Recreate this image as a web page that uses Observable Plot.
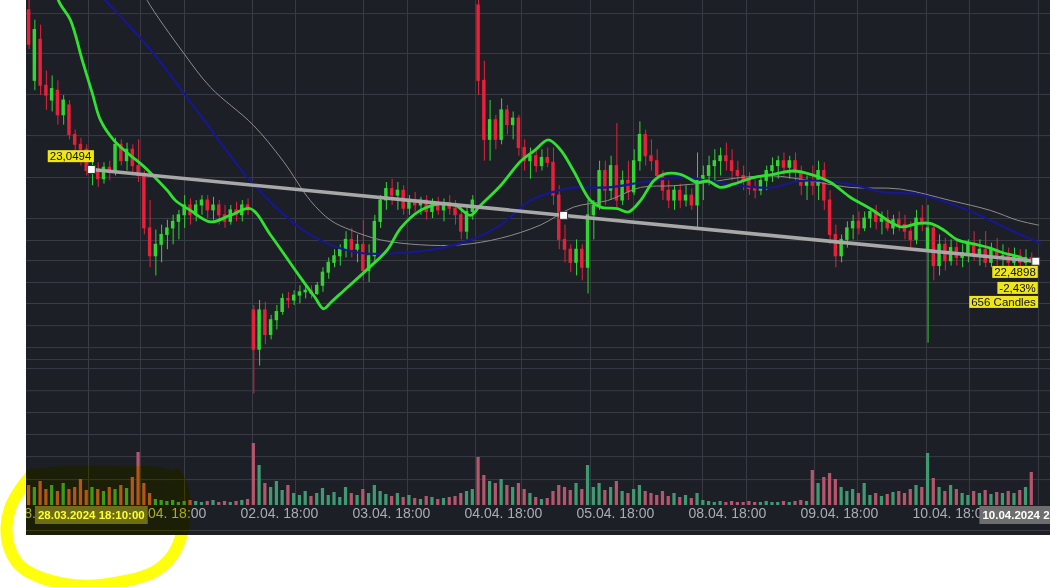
<!DOCTYPE html>
<html><head><meta charset="utf-8">
<script src="https://cdn.jsdelivr.net/npm/d3@7"></script>
<script src="https://cdn.jsdelivr.net/npm/@observablehq/plot@0.6"></script>
<style>
body{margin:0;background:#fff;}
#root{position:relative;width:1050px;height:587px;overflow:hidden;background:#fff;font-family:'Liberation Sans',Arial,sans-serif;}
#pane{position:absolute;left:26px;top:0;width:1024px;height:535px;background:#1c1f25;overflow:hidden;}
#pane svg{position:absolute;left:-26px;top:0;max-width:none;}
#baseline{position:absolute;left:0;top:530px;width:1024px;height:1px;background:#3a3d45;}
#root > svg{position:absolute;left:0;top:0;max-width:none;mix-blend-mode:multiply;}
</style></head>
<body><div id="root"><div id="pane"><div id="baseline"></div></div></div>
<script>
// ---- candles (one bar = 4 ten-minute candles), prices in EUR ----
const open = [24.02,23.59,23.84,23.56,23.47,23.53,23.38,23.44,23.26,23.20,
23.17,23.04,23.05,22.99,23.06,23.03,23.20,23.10,23.17,23.07,
23.01,22.69,22.52,22.59,22.65,22.69,22.73,22.77,22.83,22.77,
22.83,22.86,22.80,22.83,22.77,22.73,22.80,22.77,22.83,22.19,
21.95,22.19,22.04,22.13,22.18,22.26,22.25,22.28,22.30,22.31,
22.29,22.34,22.42,22.48,22.52,22.56,22.62,22.56,22.59,22.43,
22.52,22.73,22.86,22.93,22.89,22.92,22.81,22.86,22.83,22.86,
22.79,22.83,22.80,22.84,22.81,22.77,22.67,22.79,24.05,23.59,
23.23,23.35,23.23,23.41,23.32,23.36,23.18,23.10,23.13,23.07,
23.12,23.09,22.89,22.62,22.56,22.48,22.56,22.45,22.77,22.83,
23.04,22.92,23.07,22.86,22.98,22.91,23.10,23.26,23.13,23.10,
23.01,22.92,22.86,22.92,22.86,22.89,22.83,22.98,23.01,23.07,
23.10,23.13,23.10,23.04,23.01,22.98,22.93,22.92,22.98,23.04,
23.07,23.10,23.06,23.10,23.03,22.95,22.98,22.95,23.04,22.86,
22.65,22.52,22.62,22.69,22.73,22.69,22.75,22.79,22.73,22.75,
22.69,22.74,22.71,22.67,22.62,22.75,22.56,22.69,22.46,22.59,
22.49,22.57,22.51,22.54,22.59,22.52,22.56,22.48,22.56,22.51,
22.52,22.48,22.52,22.48,22.51];
const high = [24.08,23.96,23.93,23.65,23.62,23.59,23.50,23.47,23.29,23.24,
23.20,23.10,23.09,23.09,23.10,23.24,23.23,23.21,23.20,23.23,
23.04,22.86,22.68,22.71,22.74,22.77,22.80,22.89,22.87,22.86,
22.89,22.89,22.88,22.86,22.83,22.83,22.85,22.86,22.87,22.22,
22.25,22.24,22.16,22.22,22.29,22.30,22.31,22.34,22.35,22.34,
22.36,22.45,22.51,22.56,22.59,22.67,22.69,22.65,22.74,22.59,
22.77,22.89,22.97,22.99,22.97,22.95,22.89,22.91,22.88,22.89,
22.87,22.88,22.87,22.89,22.86,22.83,22.83,22.89,24.11,23.71,
23.47,23.38,23.48,23.44,23.40,23.38,23.23,23.18,23.17,23.17,
23.18,23.18,22.95,22.71,22.59,22.62,22.59,22.86,22.86,23.10,
23.10,23.13,23.33,23.04,23.10,23.17,23.34,23.29,23.23,23.17,
23.04,22.98,22.95,22.96,22.95,22.93,23.15,23.07,23.13,23.17,
23.18,23.21,23.17,23.10,23.07,23.03,22.98,23.01,23.07,23.12,
23.13,23.15,23.13,23.15,23.07,23.01,23.07,23.10,23.09,22.92,
22.71,22.65,22.73,22.77,22.79,22.79,22.81,22.83,22.79,22.80,
22.77,22.79,22.77,22.73,22.80,22.83,22.83,22.71,22.65,22.63,
22.62,22.62,22.59,22.62,22.67,22.62,22.67,22.60,22.63,22.59,
22.57,22.57,22.56,22.56,22.54];
const low = [23.78,23.53,23.50,23.41,23.40,23.32,23.32,23.23,23.15,23.07,
23.01,22.95,22.94,22.96,22.98,23.01,23.07,23.04,23.01,22.97,
22.65,22.45,22.40,22.48,22.56,22.59,22.62,22.69,22.71,22.73,
22.77,22.75,22.74,22.71,22.69,22.71,22.73,22.73,22.77,21.68,
21.85,21.98,22.01,22.07,22.16,22.20,22.22,22.23,22.26,22.26,
22.28,22.30,22.38,22.45,22.46,22.51,22.51,22.48,22.37,22.36,
22.48,22.69,22.80,22.83,22.80,22.77,22.77,22.79,22.77,22.74,
22.75,22.77,22.73,22.77,22.71,22.62,22.62,22.74,23.50,23.10,
23.10,23.17,23.20,23.26,23.23,23.13,23.04,22.99,23.03,23.04,
23.06,22.83,22.56,22.48,22.42,22.40,22.37,22.29,22.62,22.80,
22.83,22.86,22.80,22.83,22.86,22.89,23.04,23.07,23.04,22.98,
22.86,22.81,22.80,22.81,22.82,22.80,22.68,22.86,22.95,22.98,
23.01,23.04,22.98,22.95,22.92,22.89,22.87,22.89,22.92,22.97,
22.99,23.01,22.99,22.98,22.89,22.86,22.89,22.86,22.80,22.59,
22.45,22.48,22.57,22.62,22.65,22.67,22.69,22.68,22.65,22.67,
22.65,22.67,22.62,22.57,22.59,22.67,21.99,22.37,22.40,22.43,
22.46,22.46,22.45,22.48,22.49,22.46,22.45,22.45,22.46,22.45,
22.45,22.46,22.45,22.46,22.46];
const close = [23.81,23.90,23.56,23.50,23.54,23.38,23.47,23.26,23.20,23.17,
23.04,23.05,22.99,23.06,23.03,23.20,23.10,23.17,23.07,23.01,
22.69,22.52,22.59,22.65,22.69,22.73,22.77,22.83,22.77,22.83,
22.86,22.80,22.83,22.77,22.73,22.80,22.77,22.83,22.80,21.95,
22.19,22.04,22.13,22.18,22.26,22.25,22.28,22.30,22.31,22.29,
22.34,22.42,22.48,22.52,22.56,22.62,22.56,22.59,22.43,22.52,
22.73,22.86,22.93,22.89,22.92,22.81,22.86,22.83,22.86,22.79,
22.83,22.80,22.84,22.81,22.77,22.67,22.79,22.86,23.59,23.23,
23.35,23.23,23.41,23.32,23.36,23.18,23.10,23.13,23.07,23.12,
23.09,22.89,22.62,22.56,22.48,22.56,22.45,22.77,22.83,23.04,
22.92,23.07,22.86,22.98,22.91,23.10,23.26,23.13,23.10,23.01,
22.92,22.86,22.92,22.86,22.89,22.83,22.98,23.01,23.07,23.10,
23.13,23.10,23.04,23.01,22.98,22.93,22.92,22.98,23.04,23.07,
23.10,23.06,23.10,23.03,22.95,22.98,22.95,23.04,22.86,22.65,
22.52,22.62,22.69,22.73,22.69,22.75,22.79,22.73,22.75,22.69,
22.74,22.71,22.67,22.62,22.75,22.73,22.69,22.46,22.59,22.49,
22.57,22.51,22.54,22.59,22.52,22.56,22.48,22.56,22.51,22.52,
22.48,22.52,22.48,22.51,22.49];
const volume = [20,18,24,16,20,14,22,16,18,26,15,18,16,14,18,16,20,17,28,53,22,12,
6,5,4,5,3,4,5,4,3,4,5,3,4,3,4,5,6,
62,40,22,18,24,15,20,12,10,14,9,12,17,10,13,8,18,12,10,16,12,20,14,11,9,12,8,10,7,6,9,8,6,7,8,9,12,14,16,
48,30,24,22,26,20,18,22,16,12,8,6,7,14,20,18,15,22,16,40,18,22,15,18,24,14,12,16,20,14,12,10,14,9,12,8,10,7,12,
5,4,3,4,3,4,3,3,4,3,3,4,3,3,4,3,4,5,4,
35,22,28,32,26,18,14,16,12,22,10,12,9,11,13,14,12,16,20,18,52,27,18,14,20,16,12,10,14,12,15,11,13,12,14,12,15,18,33];

// ---- moving averages (x in bar units) ----
const greenX = [3.7,5.1,7.18,9.27,11.0,12.39,14.65,17.08,19.85,21.59,24.02,25.4,28.0,31.5,34.95,38.42,41.9,47.1,49.6,51.1,52.4,54.6,59.3,62.2,64.45,67.9,71.4,74.0,76.6,78.3,81.8,85.3,87.7,90.1,92.2,94.5,97.4,99.2,102.1,104.0,106.1,108.4,110.1,113.0,116.0,117.7,120.0,122.2,125.7,129.2,132.6,135.6,139.1,142.5,146.0,151.2,154.2,156.4,158.7,161.1,164.6,166.8,169.1,171.5,173.8,174.8];
const greenY = [24.32,24.08,23.96,23.71,23.51,23.35,23.23,23.15,23.07,23.01,22.92,22.86,22.80,22.73,22.77,22.81,22.65,22.39,22.27,22.20,22.24,22.31,22.46,22.56,22.69,22.80,22.84,22.83,22.77,22.83,22.95,23.10,23.165,23.23,23.17,23.04,22.86,22.82,22.81,22.79,22.86,22.98,23.02,23.02,22.97,22.98,22.94,22.96,23.00,23.02,23.04,23.02,22.97,22.88,22.81,22.70,22.72,22.72,22.68,22.62,22.59,22.57,22.54,22.52,22.49,22.48];
const blueX = [11.5,13.26,21.07,29.74,38.42,47.1,52.3,57.5,64.45,71.4,76.6,81.8,87.0,91.7,94.5,100.4,106.1,111.8,114.8,117.7,123.4,126.4,129.2,133.9,142.5,148.3,154.2,159.9,165.6,171.5,175.5];
const blueY = [24.15,24.08,23.78,23.38,22.98,22.69,22.59,22.54,22.54,22.57,22.62,22.71,22.86,22.92,22.94,22.94,22.97,23.00,23.00,22.98,22.95,22.94,22.94,22.98,22.96,22.91,22.90,22.84,22.76,22.66,22.60];
const grayX = [19.3,20.5,26.8,31.5,38.9,44.1,48.8,52.3,55.8,61.0,67.9,74.9,81.8,88.7,94.5,100.4,106.1,111.8,117.7,123.4,129.2,133.9,142.5,151.2,159.9,166.8,171.5,175.2];
const grayY = [24.17,24.08,23.76,23.55,23.32,23.10,22.86,22.74,22.68,22.62,22.59,22.59,22.63,22.71,22.82,22.86,22.94,22.95,22.97,23.00,23.01,22.99,22.94,22.93,22.86,22.80,22.74,22.71];

// ---- measurement tool ----
const trendX = [10.8, 174.7];
const trendY = [23.0494, 22.4898];
const handleX = [10.8, 92.75, 174.7];
const handleY = [23.0494, 22.7696, 22.4898];
const startLabel = "23,0494";
const endLabels = ["22,4898", "-2,43%", "656 Candles"];
const dateTags = ["28.03.2024 18:10:00", "10.04.2024 21:50:00"];

// ---- axis & grid ----
const tickX = [-2.19, 17.25, 36.68, 56.12, 75.55, 94.99, 114.42, 133.86, 153.29];
const tickLabels = ["28.03. 18:00","01.04. 18:00","02.04. 18:00","03.04. 18:00","04.04. 18:00","05.04. 18:00","08.04. 18:00","09.04. 18:00","10.04. 18:00"];
const gridX = [10.31,19.33,26.97,38.77,46.23,58.03,65.66,77.46,85.44,97.42,104.88,116.85,124.49,136.29,143.75,155.72,163.18,175.15];
const gridPrice = [24.00,23.757,23.507,23.256,23.00,22.75,22.616,22.494,22.36,22.232,22.097,21.963,21.89,21.835,21.70,21.567,21.433,21.298,21.158];

// ---- hand-drawn highlight (in chart units) ----
const ringX = [0.59,-1.49,-3.23,-3.92,-3.40,-1.49,2.85,9.79,16.73,21.41,24.54,26.27,26.97,26.79,25.58];
const ringY = [21.19,21.10,20.99,20.87,20.74,20.63,20.55,20.51,20.54,20.59,20.68,20.80,20.94,21.08,21.19];
const tintX = [-0.45,5.45,15.86,23.67,25.93,26.97,27.31];
const tintTop = [21.213,21.237,21.237,21.225,21.176,21.091,20.8165];
const tintBottom = 20.8165;

const xDomain = [-0.45, 177.25];
const priceDomain = [21, 24.08];
const GRID = "#393c44", UP = "#33d433", DOWN = "#e8203a", VUP = "#3f9a72", VDOWN = "#b4566c";
const FONT = "'Liberation Sans', Arial, sans-serif";

const bars = open.map((o, i) => ({b: i, o, h: high[i], l: low[i], c: close[i], v: volume[i]}));
const pts = (xs, ys) => xs.map((x, i) => ({x, y: ys[i]}));
const col = d => d.c >= d.o ? UP : DOWN;

function tag(x, y, t, dy) {
  return Plot.text([{x, y, t}], {x: "x", y: "y", text: "t", textAnchor: "end", dy,
    fill: "#111", fontSize: 11.5});
}

const price = Plot.plot({
  width: 1050, height: 535, marginLeft: 26, marginRight: 0, marginTop: 0, marginBottom: 30,
  x: {domain: xDomain, axis: null}, y: {domain: priceDomain, axis: null},
  style: {background: "transparent", fontFamily: FONT},
  marks: [
    Plot.ruleY(gridPrice, {stroke: GRID, strokeWidth: 1}),
    Plot.ruleX(gridX, {stroke: GRID, strokeWidth: 1}),
    Plot.text(tickX.map((x, i) => ({x, t: tickLabels[i]})), {x: "x", text: "t", frameAnchor: "bottom", dy: 12,
      textAnchor: "start", fill: "#a9adb4", fontSize: 14}),
    Plot.ruleX(bars, {x: "b", y1: "l", y2: "h", stroke: col, strokeWidth: 1}),
    Plot.rect(bars, {x1: d => d.b - 0.3, x2: d => d.b + 0.3, y1: "o", y2: "c", fill: col, insetTop: -0.5, insetBottom: -0.5}),
    Plot.line(pts(grayX, grayY), {x: "x", y: "y", stroke: "#8c8c8c", strokeWidth: 1, curve: "catmull-rom"}),
    Plot.line(pts(blueX, blueY), {x: "x", y: "y", stroke: "#17178e", strokeWidth: 2.2, curve: "catmull-rom"}),
    Plot.line(pts(greenX, greenY), {x: "x", y: "y", stroke: "#2fe22f", strokeWidth: 2.8, curve: "catmull-rom"}),
    Plot.line(pts(trendX, trendY), {x: "x", y: "y", stroke: "#a8a8a8", strokeWidth: 3.6}),
    Plot.dot(pts(handleX, handleY), {x: "x", y: "y", symbol: "square", r: 4.5, fill: "white", stroke: "#333", strokeWidth: 1}),
    tag(trendX[0], trendY[0], startLabel, -13),
    tag(trendX[1], trendY[1], endLabels[0], 11),
    tag(trendX[1], trendY[1], endLabels[1], 27),
    tag(trendX[1], trendY[1], endLabels[2], 41),
    Plot.text(trendX.map((x, i) => ({x, t: dateTags[i]})), {x: "x", text: "t", frameAnchor: "bottom", dy: 13.5,
      fill: "white", fontWeight: "bold", fontSize: 11.5})
  ]
});

const vol = Plot.plot({
  width: 1050, height: 535, marginLeft: 26, marginRight: 0, marginTop: 435, marginBottom: 30,
  x: {domain: xDomain, axis: null}, y: {domain: [0, 70], axis: null},
  style: {background: "transparent"},
  marks: [
    Plot.rect(bars, {x1: d => d.b - 0.28, x2: d => d.b + 0.28, y1: d => 0, y2: "v", fill: d => d.c >= d.o ? VUP : VDOWN})
  ]
});

const anno = Plot.plot({
  width: 1050, height: 587, marginLeft: 26, marginRight: 0, marginTop: 0, marginBottom: 82,
  x: {domain: xDomain, axis: null}, y: {domain: priceDomain, axis: null},
  style: {background: "transparent"},
  marks: [
    Plot.areaY(tintX.map((x, i) => ({x, t: tintTop[i], b: tintBottom})), {x: "x", y1: "b", y2: "t", fill: "#ffff30", curve: "catmull-rom"}),
    Plot.line(pts(ringX, ringY), {x: "x", y: "y", stroke: "#ffff00", strokeWidth: 12, strokeLinecap: "round", strokeOpacity: 0.95, curve: "catmull-rom"})
  ]
});

const pane = document.getElementById("pane");
pane.appendChild(price);
pane.appendChild(vol);
document.getElementById("root").appendChild(anno);

function boxes(svg, texts, fill, px, py) {
  for (const t of svg.querySelectorAll("text")) {
    if (!texts.includes(t.textContent)) continue;
    const bb = t.getBBox();
    const r = document.createElementNS("http://www.w3.org/2000/svg", "rect");
    r.setAttribute("x", bb.x - px);
    r.setAttribute("y", bb.y - py);
    r.setAttribute("width", bb.width + 2 * px);
    r.setAttribute("height", bb.height + 2 * py);
    r.setAttribute("fill", fill);
    r.setAttribute("stroke", "none");
    const tr = t.getAttribute("transform");
    if (tr) r.setAttribute("transform", tr);
    t.parentNode.insertBefore(r, t);
  }
}
boxes(price, [startLabel, ...endLabels], "#efe51b", 2, 0);
boxes(price, dateTags, "#6e6e6e", 3, 3);
</script>
</body></html>
